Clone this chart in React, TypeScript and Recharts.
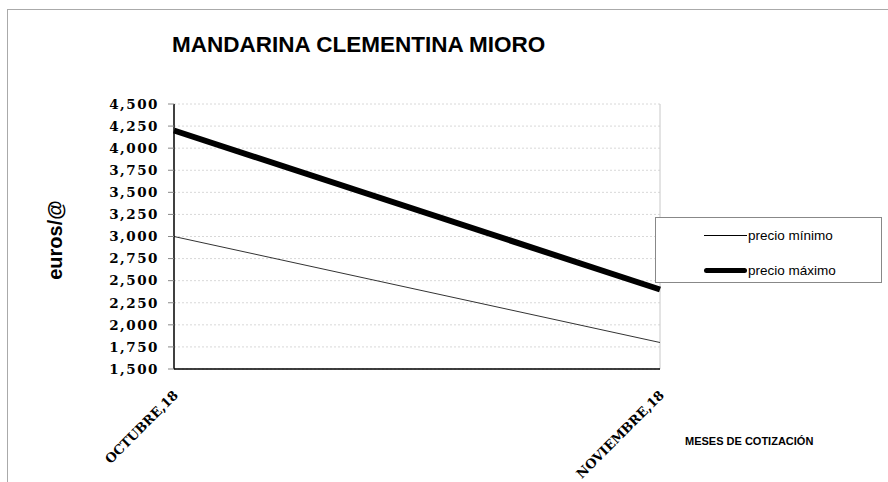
import { LineChart, Line, XAxis, YAxis, CartesianGrid, ReferenceLine } from "recharts"

const months = ["OCTUBRE,18", "NOVIEMBRE,18"]
const precioMinimo = [3.0, 1.8]
const precioMaximo = [4.2, 2.4]
const yTicks = [1.5, 1.75, 2.0, 2.25, 2.5, 2.75, 3.0, 3.25, 3.5, 3.75, 4.0, 4.25, 4.5]
const seriesNames = ["precio mínimo", "precio máximo"]

const data = months.map((mes, i) => ({
  mes,
  min: precioMinimo[i],
  max: precioMaximo[i]
}))

const tickFont = "'DejaVu Serif', serif"
const sansFont = "'Liberation Sans', Arial, sans-serif"

function formatEuro(v: number) {
  return v.toFixed(3).replace(".", ",")
}

function MonthTick({ x, y, payload }: any) {
  return (
    <g transform={`translate(${x + 5},${y + 19})`}>
      <text
        transform="rotate(-45)"
        textAnchor="end"
        fontFamily={tickFont}
        fontWeight="bold"
        fontSize={13}
        fill="#000"
      >
        {payload.value}
      </text>
    </g>
  )
}

function LegendBox() {
  const widths = [1, 5]
  return (
    <div
      style={{
        position: "absolute",
        left: 655,
        top: 217,
        width: 225,
        height: 64,
        border: "1px solid #888",
        background: "#fff",
        fontFamily: sansFont,
        fontSize: 13.5
      }}
    >
      {seriesNames.map((name, i) => (
        <div
          key={name}
          style={{ position: "absolute", left: 48, top: i === 0 ? 8 : 43, display: "flex", alignItems: "center", height: 18 }}
        >
          <div style={{ width: 43, height: widths[i], background: "#000", borderRadius: widths[i] > 1 ? 3 : 0 }} />
          <span style={{ marginLeft: 1 }}>{name}</span>
        </div>
      ))}
    </div>
  )
}

export default function App() {
  return (
    <div style={{ position: "absolute", left: 0, top: 0, width: 888, height: 482, background: "#fff", overflow: "hidden" }}>
      <div
        style={{
          position: "absolute",
          left: 7,
          top: 9,
          width: 890,
          height: 480,
          borderTop: "1px solid #aaa",
          borderLeft: "1px solid #aaa"
        }}
      />
      <div
        style={{
          position: "absolute",
          left: 172,
          top: 32,
          fontFamily: sansFont,
          fontWeight: "bold",
          fontSize: 22.5,
          whiteSpace: "nowrap"
        }}
      >
        MANDARINA CLEMENTINA MIORO
      </div>
      <div
        style={{
          position: "absolute",
          left: 55,
          top: 240,
          transform: "translate(-50%, -50%) rotate(-90deg)",
          fontFamily: sansFont,
          fontWeight: "bold",
          fontSize: 20,
          whiteSpace: "nowrap"
        }}
      >
        euros/@
      </div>
      <div
        style={{
          position: "absolute",
          left: 685,
          top: 435,
          fontFamily: sansFont,
          fontWeight: "bold",
          fontSize: 11,
          whiteSpace: "nowrap"
        }}
      >
        MESES DE COTIZACIÓN
      </div>
      <div style={{ position: "absolute", left: 0, top: 0 }}>
        <LineChart width={888} height={482} data={data} margin={{ top: 104, right: 228, bottom: 33, left: 0 }}>
          <CartesianGrid vertical={false} stroke="#d8d8d8" strokeDasharray="2 2" />
          <ReferenceLine x={months[1]} stroke="#c8c8c8" />
          <XAxis
            dataKey="mes"
            height={80}
            axisLine={{ stroke: "#000", strokeWidth: 1.5 }}
            tickLine={false}
            tick={<MonthTick />}
            interval={0}
          />
          <YAxis
            width={174}
            domain={[1.5, 4.5]}
            ticks={yTicks}
            interval={0}
            tickFormatter={formatEuro}
            axisLine={{ stroke: "#000", strokeWidth: 1.5 }}
            tickLine={{ stroke: "#888" }}
            tickSize={6}
            tickMargin={9}
            tick={{ fontFamily: tickFont, fontWeight: "bold", fontSize: 13.5, fill: "#000", letterSpacing: 1.5 }}
          />
          <Line dataKey="min" stroke="#333" strokeWidth={1} dot={false} isAnimationActive={false} />
          <Line dataKey="max" stroke="#000" strokeWidth={6} dot={false} isAnimationActive={false} />
        </LineChart>
      </div>
      <LegendBox />
    </div>
  )
}
